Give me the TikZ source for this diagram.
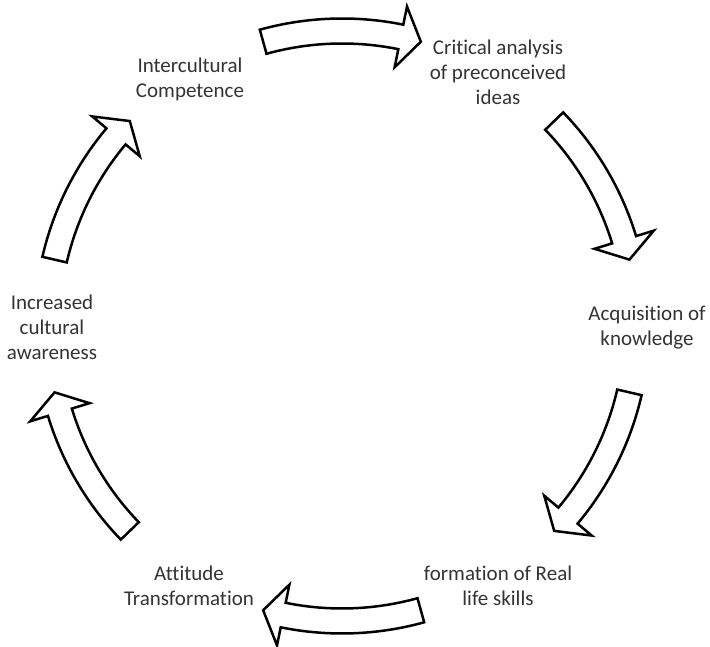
\documentclass[tikz,border=0pt]{standalone}
\usepackage{fontspec}
\setmainfont{Carlito}[Ligatures={CommonOff}]
\usetikzlibrary{calc}
\definecolor{txt}{HTML}{333333}
\tikzset{
  lbl/.style={align=center, text=txt, font=\fontsize{21}{25}\selectfont, inner sep=0pt},
  blockarrow/.style={draw=black, fill=white, line width=2.5pt, line join=miter},
}
\newcommand{\cycarrow}[1]{%
  \draw[blockarrow]
    ($(C)+(#1+15.5:307.5pt)$) arc[start angle=#1+15.5, end angle=#1-11.5, radius=307.5pt]
    -- ($(C)+(#1-11.5:326pt)$)
    -- ($(C)+(#1-15.5:295pt)$)
    -- ($(C)+(#1-11.5:264pt)$)
    -- ($(C)+(#1-11.5:282.5pt)$)
    arc[start angle=#1-11.5, end angle=#1+15.5, radius=282.5pt]
    -- cycle;}
\begin{document}
\begin{tikzpicture}[x=1pt,y=1pt]
\useasboundingbox (0,0) rectangle (710,647);
\coordinate (C) at (342,321);
\cycarrow{90}
\cycarrow{28.5}
\cycarrow{-28.5}
\cycarrow{-90}
\cycarrow{-151.5}
\cycarrow{151.5}
\node[lbl] (ic) at (190,568) {Intercultural\\Competence};
\node[lbl] (ca) at (498,575) {Critical analysis\\of preconceived\\ideas};
\node[lbl] (ak) at (647,319) {Acquisition of\\knowledge};
\node[lbl] (fr) at (498,61) {formation of Real\\life skills};
\node[lbl] (at) at (189,61) {Attitude\\Transformation};
\node[lbl] (ia) at (52,320) {Increased\\cultural\\awareness};
\end{tikzpicture}
\end{document}
